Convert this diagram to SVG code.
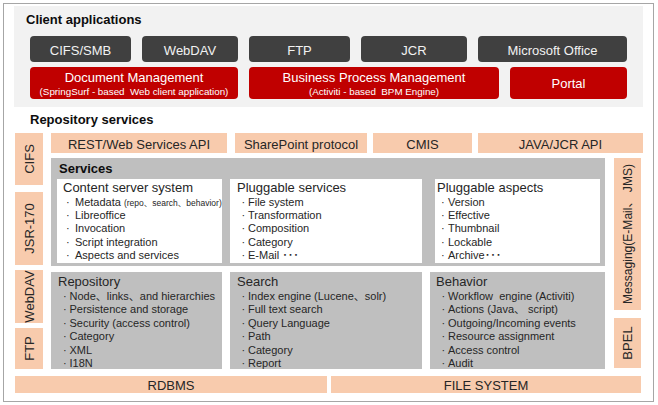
<svg xmlns="http://www.w3.org/2000/svg" width="658" height="405" viewBox="0 0 658 405">
<style>
text{font-family:"Liberation Sans",Arial,"Noto Sans CJK SC",sans-serif;fill:#262626}
.h{font-size:13px;font-weight:bold;fill:#0d0d0d}
.dk{fill:#404040}
.rd{fill:#c00000}
.pc{fill:#f8cbad}
.gy{fill:#bfbfbf}
.wh{fill:#ffffff}
.w13{font-size:13px;fill:#f2f2f2;text-anchor:middle}
.w9{font-size:9.8px;fill:#ffffff;text-anchor:middle}
.p13{font-size:13px;text-anchor:middle;fill:#262626}
.t13{font-size:13px}
.i{font-size:11px}
.s{font-size:8.5px}
</style>
<rect x="3.5" y="3.5" width="650" height="398" fill="#ffffff" stroke="#a6a6a6" stroke-width="1"/>
<rect x="14" y="6" width="629" height="101" fill="#f2f2f2"/>
<text class="h" x="26" y="24">Client applications</text>
<g id="cifs-smb"><rect class="dk" x="30" y="36" width="101" height="26" rx="4"/><text class="w13" x="80.5" y="55">CIFS/SMB</text></g>
<g id="webdav-client"><rect class="dk" x="142" y="36" width="96" height="26" rx="4"/><text class="w13" x="190" y="55">WebDAV</text></g>
<g id="ftp-client"><rect class="dk" x="249" y="36" width="101" height="26" rx="4"/><text class="w13" x="299.5" y="55">FTP</text></g>
<g id="jcr-client"><rect class="dk" x="361" y="36" width="106" height="26" rx="4"/><text class="w13" x="414" y="55">JCR</text></g>
<g id="ms-office"><rect class="dk" x="478" y="36" width="149" height="26" rx="4"/><text class="w13" x="552.5" y="55">Microsoft Office</text></g>
<g id="doc-mgmt"><rect class="rd" x="30" y="67" width="208" height="32" rx="4"/><text class="w13" x="134" y="82" style="fill:#fff">Document Management</text><text class="w9" x="134" y="95" xml:space="preserve">(SpringSurf - based  Web client application)</text></g>
<g id="bpm"><rect class="rd" x="249" y="67" width="250" height="32" rx="4"/><text class="w13" x="374" y="82" style="fill:#fff">Business Process Management</text><text class="w9" x="374" y="95" xml:space="preserve">(Activiti - based  BPM Engine)</text></g>
<g id="portal"><rect class="rd" x="510" y="67" width="117" height="32" rx="4"/><text class="w13" x="568.5" y="88" style="fill:#fff">Portal</text></g>
<text class="h" x="30" y="124">Repository services</text>
<g id="rest-api"><rect class="pc" x="51" y="133" width="176" height="20"/><text class="p13" x="139" y="148.5">REST/Web Services API</text></g>
<g id="sharepoint"><rect class="pc" x="235" y="133" width="132" height="20"/><text class="p13" x="301" y="148.5">SharePoint protocol</text></g>
<g id="cmis"><rect class="pc" x="373" y="133" width="99" height="20"/><text class="p13" x="422.5" y="148.5">CMIS</text></g>
<g id="java-jcr"><rect class="pc" x="478" y="133" width="165" height="20"/><text class="p13" x="560.5" y="148.5">JAVA/JCR API</text></g>
<g id="cifs"><rect class="pc" x="15" y="133" width="28" height="52"/><text class="p13" transform="translate(33.5,159) rotate(-90)">CIFS</text></g>
<g id="jsr170"><rect class="pc" x="15" y="192" width="28" height="73"/><text class="p13" transform="translate(33.5,228.5) rotate(-90)">JSR-170</text></g>
<g id="webdav"><rect class="pc" x="15" y="270" width="28" height="53"/><text class="p13" transform="translate(33.5,296.5) rotate(-90)">WebDAV</text></g>
<g id="ftp"><rect class="pc" x="15" y="328" width="28" height="41"/><text class="p13" transform="translate(33.5,348.5) rotate(-90)">FTP</text></g>
<g id="messaging"><rect class="pc" x="614" y="158" width="27" height="152"/><text class="p13" style="font-size:12px" textLength="140" lengthAdjust="spacingAndGlyphs" transform="translate(632,234) rotate(-90)">Messaging(E-Mail、 JMS)</text></g>
<g id="bpel"><rect class="pc" x="614" y="318" width="27" height="50"/><text class="p13" transform="translate(632,343) rotate(-90)">BPEL</text></g>
<g id="services">
<rect class="gy" x="51" y="158" width="554" height="108"/>
<text class="h" x="59" y="173">Services</text>
</g>
<g id="content-server"><rect class="wh" x="57" y="179" width="165" height="84"/>
<text class="t13" x="63" y="192">Content server system</text>
<text class="i" y="205.5"><tspan x="66">·</tspan><tspan x="75">Metadata </tspan><tspan class="s">(repo、search、behavior)</tspan></text>
<text class="i" y="219"><tspan x="66">·</tspan><tspan x="75">Libreoffice</tspan></text>
<text class="i" y="232"><tspan x="66">·</tspan><tspan x="75">Invocation</tspan></text>
<text class="i" y="245.5"><tspan x="66">·</tspan><tspan x="75">Script integration</tspan></text>
<text class="i" y="259"><tspan x="66">·</tspan><tspan x="75">Aspects and services</tspan></text>
</g>
<g id="pluggable-services"><rect class="wh" x="230" y="179" width="192" height="84"/>
<text class="t13" x="237" y="192">Pluggable services</text>
<text class="i" y="205.5"><tspan x="241.5">·</tspan><tspan x="248">File system</tspan></text>
<text class="i" y="219"><tspan x="241.5">·</tspan><tspan x="248">Transformation</tspan></text>
<text class="i" y="232"><tspan x="241.5">·</tspan><tspan x="248">Composition</tspan></text>
<text class="i" y="245.5"><tspan x="241.5">·</tspan><tspan x="248">Category</tspan></text>
<text class="i" y="259"><tspan x="241.5">·</tspan><tspan x="248">E-Mail ･･･</tspan></text>
</g>
<g id="pluggable-aspects"><rect class="wh" x="435" y="179" width="165" height="84"/>
<text class="t13" x="437" y="192">Pluggable aspects</text>
<text class="i" y="205.5"><tspan x="441">·</tspan><tspan x="448">Version</tspan></text>
<text class="i" y="219"><tspan x="441">·</tspan><tspan x="448">Effective</tspan></text>
<text class="i" y="232"><tspan x="441">·</tspan><tspan x="448">Thumbnail</tspan></text>
<text class="i" y="245.5"><tspan x="441">·</tspan><tspan x="448">Lockable</tspan></text>
<text class="i" y="259"><tspan x="441">·</tspan><tspan x="448">Archive･･･</tspan></text>
</g>
<g id="repository"><rect class="gy" x="51" y="272" width="171" height="97"/>
<text class="t13" x="58" y="286">Repository</text>
<text class="i" y="299.5"><tspan x="63">·</tspan><tspan x="69.5">Node、links、and hierarchies</tspan></text>
<text class="i" y="313"><tspan x="63">·</tspan><tspan x="69.5">Persistence and storage</tspan></text>
<text class="i" y="326.5"><tspan x="63">·</tspan><tspan x="69.5">Security (access control)</tspan></text>
<text class="i" y="340"><tspan x="63">·</tspan><tspan x="69.5">Category</tspan></text>
<text class="i" y="353.5"><tspan x="63">·</tspan><tspan x="69.5">XML</tspan></text>
<text class="i" y="367"><tspan x="63">·</tspan><tspan x="69.5">I18N</tspan></text>
</g>
<g id="search"><rect class="gy" x="230" y="272" width="192" height="97"/>
<text class="t13" x="237" y="286">Search</text>
<text class="i" y="299.5"><tspan x="241.5">·</tspan><tspan x="248">Index engine (Lucene、solr)</tspan></text>
<text class="i" y="313"><tspan x="241.5">·</tspan><tspan x="248">Full text search</tspan></text>
<text class="i" y="326.5"><tspan x="241.5">·</tspan><tspan x="248">Query Language</tspan></text>
<text class="i" y="340"><tspan x="241.5">·</tspan><tspan x="248">Path</tspan></text>
<text class="i" y="353.5"><tspan x="241.5">·</tspan><tspan x="248">Category</tspan></text>
<text class="i" y="367"><tspan x="241.5">·</tspan><tspan x="248">Report</tspan></text>
</g>
<g id="behavior"><rect class="gy" x="430" y="272" width="175" height="97"/>
<text class="t13" x="436" y="286">Behavior</text>
<text class="i" y="299.5" xml:space="preserve"><tspan x="441.5">·</tspan><tspan x="448">Workflow  engine (Activiti)</tspan></text>
<text class="i" y="313"><tspan x="441.5">·</tspan><tspan x="448">Actions (Java、 script)</tspan></text>
<text class="i" y="326.5"><tspan x="441.5">·</tspan><tspan x="448">Outgoing/Incoming events</tspan></text>
<text class="i" y="340"><tspan x="441.5">·</tspan><tspan x="448">Resource assignment</tspan></text>
<text class="i" y="353.5"><tspan x="441.5">·</tspan><tspan x="448">Access control</tspan></text>
<text class="i" y="367"><tspan x="441.5">·</tspan><tspan x="448">Audit</tspan></text>
</g>
<g id="rdbms"><rect class="pc" x="15" y="376" width="312" height="17"/><text class="p13" x="171" y="389.5">RDBMS</text></g>
<g id="file-system"><rect class="pc" x="331" y="376" width="310" height="17"/><text class="p13" x="486" y="389.5">FILE SYSTEM</text></g>
<g id="connectors"></g>
</svg>
